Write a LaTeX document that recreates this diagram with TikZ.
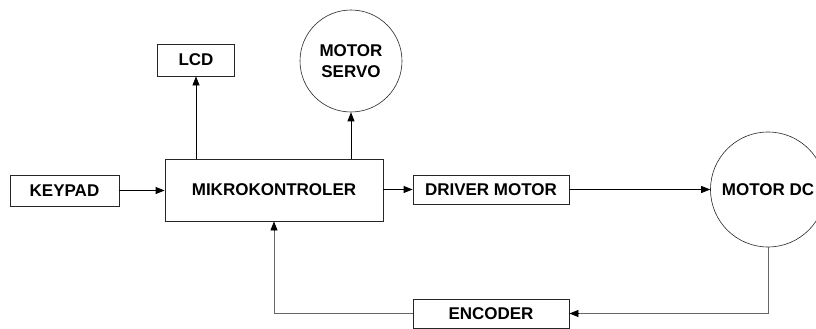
\documentclass[tikz,border=0pt]{standalone}
\usepackage{fontspec}
\setmainfont{Liberation Sans}
\usetikzlibrary{arrows.meta,calc}
\begin{document}
\begin{tikzpicture}[x=1pt,y=-1pt,
  every node/.style={font=\fontsize{17}{21}\selectfont\bfseries, inner sep=0pt},
  blockbox/.style={draw=black!85, line width=0.8pt, rectangle},
  roundbox/.style={draw=black!85, line width=0.6pt, circle},
  conn/.style={draw=black, line width=0.8pt, -{Triangle[length=9pt,width=7pt]}},
  fb/.style={draw=black!60, line width=0.9pt}]
\useasboundingbox (0,0) rectangle (816,329);
\node[blockbox, minimum width=109pt, minimum height=31pt] (keypad) at (64.5,190.5) {KEYPAD};
\node[blockbox, minimum width=218pt, minimum height=62pt] (mikro) at (274,190) {MIKROKONTROLER};
\node[blockbox, minimum width=77pt, minimum height=32pt] (lcd) at (196,60) {LCD};
\node[roundbox, minimum size=102pt, align=center] (servo) at (351,61) {MOTOR\\SERVO};
\node[blockbox, minimum width=156pt, minimum height=29pt] (driver) at (491,189.5) {DRIVER MOTOR};
\node[roundbox, minimum size=115pt] (dc) at (768,189.5) {MOTOR DC};
\node[blockbox, minimum width=156pt, minimum height=29pt] (encoder) at (491,313.5) {ENCODER};
\draw[conn] (keypad.east) -- (keypad.east -| mikro.west);
\draw[conn] (mikro.north -| lcd.south) -- (lcd.south);
\draw[conn] (mikro.north -| servo.south) -- (servo.south);
\draw[conn] (mikro.east |- driver.west) -- (driver.west);
\draw[conn] (driver.east) -- (driver.east -| dc.west);
\draw[fb] (dc.south) -- (dc.south |- encoder.east) -- ($(encoder.east)+(9,0)$);
\draw[conn] ($(encoder.east)+(9,0)$) -- (encoder.east);
\draw[fb] (encoder.west) -- (encoder.west -| mikro.south) -- ($(mikro.south)+(0,9)$);
\draw[conn] ($(mikro.south)+(0,9)$) -- (mikro.south);
\end{tikzpicture}
\end{document}
